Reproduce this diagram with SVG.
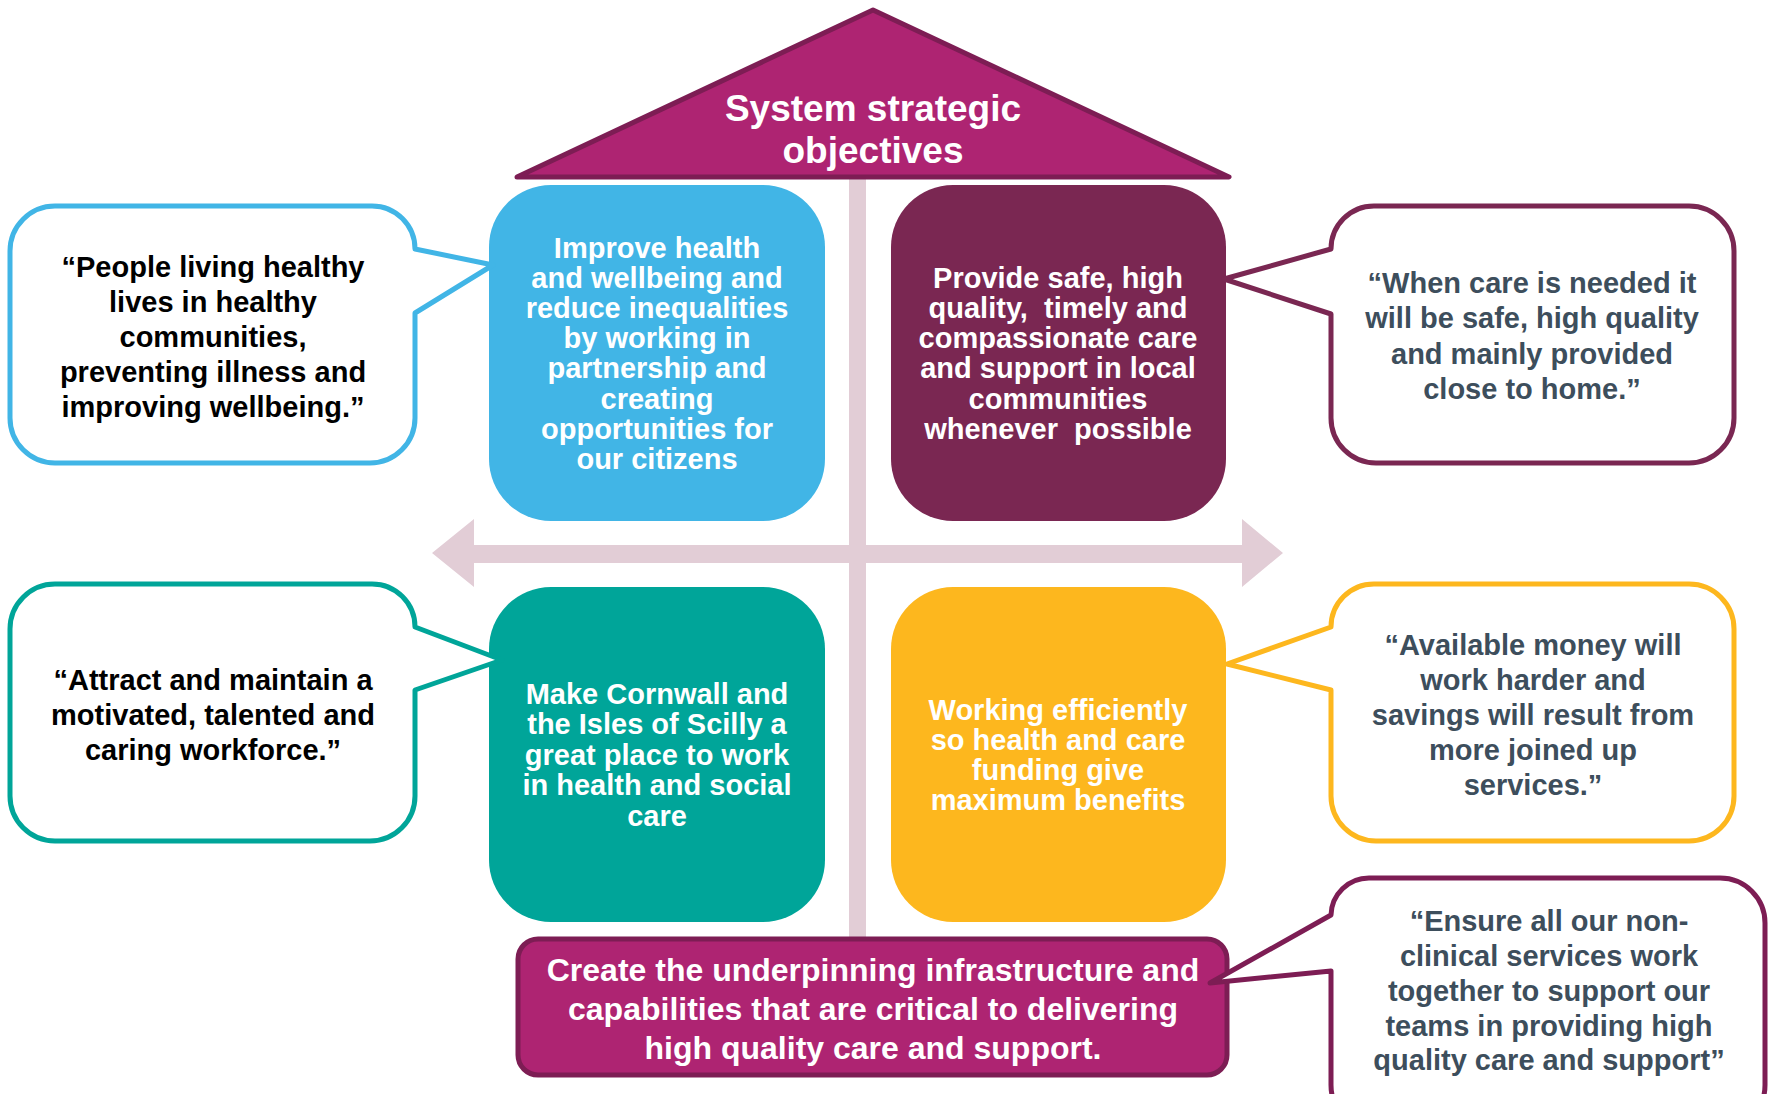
<svg xmlns="http://www.w3.org/2000/svg" width="1770" height="1094" viewBox="0 0 1770 1094">
<style>
text{font-family:"Liberation Sans",Arial,sans-serif;font-weight:bold;text-anchor:middle}
.w{fill:#FFFFFF;font-size:29px}
.k{fill:#000000;font-size:29px}
.s{fill:#3D4E5C;font-size:29px}
.co{fill:#FFFFFF;stroke-width:5;stroke-linejoin:round}
</style>
<rect width="1770" height="1094" fill="#FFFFFF"/>
<g id="frame">
<rect x="849" y="177" width="17" height="762" fill="#E2CDD6"/>
<polygon points="432,553 474,519 474,545 1242,545 1242,519 1283,553 1242,587 1242,563 474,563 474,587" fill="#E2CDD6"/>
</g>
<g id="roof">
<polygon points="873,10 1229,177 517,177" fill="#AE2472" stroke="#7D1D54" stroke-width="5" stroke-linejoin="round"/>
<text class="w" style="font-size:37px" x="873" y="121">System strategic</text>
<text class="w" style="font-size:37px" x="873" y="163">objectives</text>
</g>
<g id="connectors">
</g>
<g id="obj-health">
<rect x="489" y="185" width="336" height="336" rx="62" fill="#41B5E6"/>
<text class="w" x="657" y="258">Improve health</text>
<text class="w" x="657" y="288">and wellbeing and</text>
<text class="w" x="657" y="318">reduce inequalities</text>
<text class="w" x="657" y="348">by working in</text>
<text class="w" x="657" y="378">partnership and</text>
<text class="w" x="657" y="409">creating</text>
<text class="w" x="657" y="439">opportunities for</text>
<text class="w" x="657" y="469">our citizens</text>
</g>
<g id="obj-care">
<rect x="891" y="185" width="335" height="336" rx="62" fill="#7A2752"/>
<text class="w" x="1058" y="288">Provide safe, high</text>
<text class="w" x="1058" y="318" xml:space="preserve">quality,  timely and</text>
<text class="w" x="1058" y="348">compassionate care</text>
<text class="w" x="1058" y="378">and support in local</text>
<text class="w" x="1058" y="409">communities</text>
<text class="w" x="1058" y="439" xml:space="preserve">whenever  possible</text>
</g>
<g id="obj-workforce">
<rect x="489" y="587" width="336" height="335" rx="62" fill="#00A599"/>
<text class="w" x="657" y="704">Make Cornwall and</text>
<text class="w" x="657" y="734">the Isles of Scilly a</text>
<text class="w" x="657" y="765">great place to work</text>
<text class="w" x="657" y="795">in health and social</text>
<text class="w" x="657" y="826">care</text>
</g>
<g id="obj-efficiency">
<rect x="891" y="587" width="335" height="335" rx="62" fill="#FDB71E"/>
<text class="w" x="1058" y="720">Working efficiently</text>
<text class="w" x="1058" y="750">so health and care</text>
<text class="w" x="1058" y="780">funding give</text>
<text class="w" x="1058" y="810">maximum benefits</text>
</g>
<g id="obj-infrastructure">
<rect x="518" y="939" width="709" height="136" rx="20" fill="#AE2472" stroke="#7D1D54" stroke-width="5"/>
<text class="w" style="font-size:32px" x="873" y="981">Create the underpinning infrastructure and</text>
<text class="w" style="font-size:32px" x="873" y="1020">capabilities that are critical to delivering</text>
<text class="w" style="font-size:32px" x="873" y="1059">high quality care and support.</text>
</g>
<g id="quote-health">
<path class="co" stroke="#41B5E6" d="M55,206 H372 A43 43 0 0 1 415 249 L493 265 L415 313 V418 A45 45 0 0 1 370 463 H55 A45 45 0 0 1 10 418 V251 A45 45 0 0 1 55 206 Z"/>
<text class="k" x="213" y="277">“People living healthy</text>
<text class="k" x="213" y="312">lives in healthy</text>
<text class="k" x="213" y="347">communities,</text>
<text class="k" x="213" y="382">preventing illness and</text>
<text class="k" x="213" y="417">improving wellbeing.”</text>
</g>
<g id="quote-care">
<path class="co" stroke="#7A2752" d="M1376,206 H1689 A45 45 0 0 1 1734 251 V418 A45 45 0 0 1 1689 463 H1376 A45 45 0 0 1 1331 418 V314 L1224 279 L1331 249 A43 43 0 0 1 1374 206 Z"/>
<text class="s" x="1532" y="293">“When care is needed it</text>
<text class="s" x="1532" y="328">will be safe, high quality</text>
<text class="s" x="1532" y="364">and mainly provided</text>
<text class="s" x="1532" y="399">close to home.”</text>
</g>
<g id="quote-workforce">
<path class="co" stroke="#00A599" d="M55,584 H372 A43 43 0 0 1 415 627 L502 660 L415 690 V796 A45 45 0 0 1 370 841 H55 A45 45 0 0 1 10 796 V629 A45 45 0 0 1 55 584 Z"/>
<text class="k" x="213" y="690">“Attract and maintain a</text>
<text class="k" x="213" y="725">motivated, talented and</text>
<text class="k" x="213" y="760">caring workforce.”</text>
</g>
<g id="quote-efficiency">
<path class="co" stroke="#FDB71E" d="M1376,584 H1689 A45 45 0 0 1 1734 629 V796 A45 45 0 0 1 1689 841 H1376 A45 45 0 0 1 1331 796 V690 L1227 664 L1331 627 A43 43 0 0 1 1374 584 Z"/>
<text class="s" x="1533" y="655">“Available money will</text>
<text class="s" x="1533" y="690">work harder and</text>
<text class="s" x="1533" y="725">savings will result from</text>
<text class="s" x="1533" y="760">more joined up</text>
<text class="s" x="1533" y="795">services.”</text>
</g>
<g id="quote-infrastructure">
<path class="co" stroke="#7D1D54" d="M1376,878 H1720 A45 45 0 0 1 1765 923 V1085 A45 45 0 0 1 1720 1130 H1376 A45 45 0 0 1 1331 1085 V971 L1210 983 L1331 915 A38 38 0 0 1 1369 878 Z"/>
<text class="s" x="1549" y="931">“Ensure all our non-</text>
<text class="s" x="1549" y="966">clinical services work</text>
<text class="s" x="1549" y="1001">together to support our</text>
<text class="s" x="1549" y="1036">teams in providing high</text>
<text class="s" x="1549" y="1070">quality care and support”</text>
</g>
</svg>
